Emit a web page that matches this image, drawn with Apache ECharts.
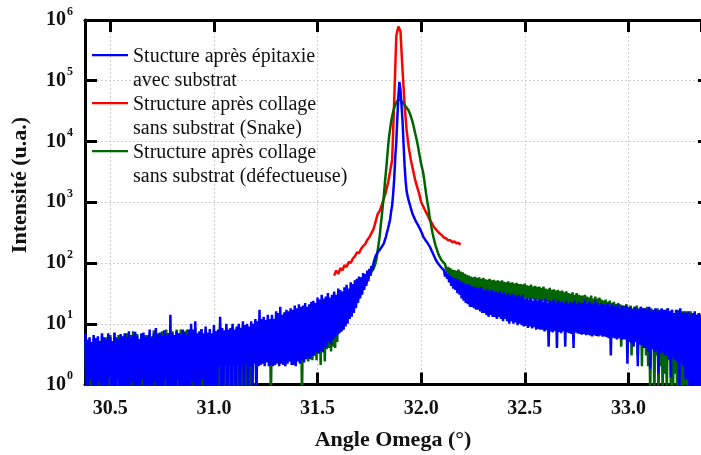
<!DOCTYPE html>
<html>
<head>
<meta charset="utf-8">
<script src="https://cdn.jsdelivr.net/npm/echarts@6/dist/echarts.min.js"></script>
<style>
html, body { margin: 0; padding: 0; background: #fff; }
#chart { width: 701px; height: 455px; }
</style>
</head>
<body>
<div id="chart"></div>
<script>
// blue / green are read at 30.38 + 0.01*i (highs) and 30.385 + 0.01*i (lows)
// values under 1 sit below the axis floor (clipped)
let angleStart = 30.38;
let redStart = 31.58;

let blueHigh = [
    7, 5.5, 6, 5, 6.5, 5.8, 6.2, 5.2, 7, 6,                  // 30.38
    5.5, 7, 6, 5.2, 7.2, 6, 5.5, 6.8, 6.2, 7,                // 30.48
    6, 7.5, 5.8, 6.5, 7.4, 6.2, 5.6, 6.8, 7.2, 6,            // 30.58
    6.2, 8, 6, 7, 8.5, 6.5, 7.2, 6.4, 7.8, 6.6,              // 30.68
    7, 14, 7, 6.5, 7.5, 7, 6.8, 8, 7.2, 6.6,                 // 30.78
    8, 10, 8, 11, 7, 7.5, 8.2, 7, 9, 7.2,                    // 30.88
    8.2, 7, 9.5, 7.5, 8, 13, 8.5, 7.8, 10, 8,                // 30.98
    8.5, 10, 8, 9, 10, 8.6, 11, 9.5, 10, 9,                  // 31.08
    11, 10, 12, 11, 17, 12, 13, 11.5, 14, 12,                // 31.18
    14, 12, 16, 15, 19, 14, 15.5, 17, 16, 18,                // 31.28
    17, 20, 18, 21, 19, 20, 22, 19, 21, 23,                  // 31.38
    24, 22, 27, 25, 30, 26, 28, 32, 27, 30,                  // 31.48
    34, 30, 38, 36, 34, 40, 44, 38, 48, 45,                  // 31.58
    52, 55, 60, 58, 68, 66, 75, 80, 90, 100,                 // 31.68
    130, 150, 165, 185, 210, 270, 370, 520, 900, 2500,       // 31.78
    10000, 55000, 70000, 22000, 4000, 1500, 1050, 800, 620, 520, // 31.88
    450, 400, 330, 270, 240, 215, 190, 160, 135, 113,        // 31.98
    100, 90, 82, 76, 72, 66, 62, 58, 56, 55,                 // 32.08
    53, 50, 48, 46, 45, 44, 42, 41, 40, 39,                  // 32.18
    38, 40, 36, 35, 37, 34, 36, 33, 34, 32,                  // 32.28
    34, 31, 33, 30, 32, 29, 31, 30, 28, 30,                  // 32.38
    28, 30, 26, 27, 25, 27, 24, 26, 24, 25,                  // 32.48
    25, 23, 26, 22, 24, 23, 25, 22, 24, 23,                  // 32.58
    23, 22, 24, 21, 23, 22, 24, 21, 23, 22,                  // 32.68
    22, 25, 21, 23, 22, 21, 24, 22, 20, 22,                  // 32.78
    21, 20, 22, 19, 21, 20, 19, 21, 18, 20,                  // 32.88
    19, 20, 18, 19, 17, 19, 18, 17, 19, 18,                  // 32.98
    18, 17, 19, 16, 17, 18, 16, 17, 18, 17,                  // 33.08
    17, 18, 16, 17, 15, 17, 16, 18, 15, 16,                  // 33.18
    15, 16, 14, 15, 16, 14, 15, 14                           // 33.28
];

let blueLow = [
    0.6, 0.6, 1.2, 0.6, 0.6, 0.6, 1.1, 0.6, 0.6, 0.6,        // 30.385
    0.6, 1.3, 0.6, 0.6, 0.6, 1.2, 0.6, 0.6, 0.6, 0.6,        // 30.485
    0.6, 0.6, 1.1, 0.6, 0.6, 0.6, 0.6, 1.2, 0.6, 0.6,        // 30.585
    0.6, 0.6, 0.6, 1.1, 0.6, 0.6, 0.6, 0.6, 1.2, 0.6,        // 30.685
    0.6, 0.6, 0.6, 0.6, 1.2, 0.6, 0.6, 0.6, 0.6, 0.6,        // 30.785
    0.6, 1.1, 0.6, 0.6, 0.6, 0.6, 1.2, 0.6, 0.6, 0.6,        // 30.885
    0.6, 0.6, 0.6, 0.6, 2, 0.6, 0.6, 2.1, 0.6, 2,            // 30.985
    0.6, 2, 0.6, 2.1, 0.6, 2, 0.6, 2.2, 0.6, 2,              // 31.085
    0.6, 2.2, 0.6, 2, 2.1, 2.2, 2, 2.3, 2, 2.1,              // 31.185
    2, 2.1, 2.3, 2, 2.2, 2.1, 2, 2.2, 2.4, 2.1,              // 31.285
    2.1, 2, 2.4, 2.2, 2.5, 2.3, 2.6, 2.8, 2.6, 2.9,          // 31.385
    3, 3.4, 3.2, 3.6, 3.4, 4, 4.2, 5, 4.6, 5.5,              // 31.485
    6, 6.5, 7, 7.5, 8, 9, 10, 12, 13, 15,                    // 31.585
    18, 22, 26, 30, 36, 42, 50, 62, 78, 95,                  // 31.685
    140, 158, 175, 195, 240, 320, 440, 700, 1400, 5500,      // 31.785
    25000, 96000, 40000, 9000, 2200, 1250, 920, 700, 570, 480, // 31.885
    420, 360, 300, 255, 228, 200, 175, 148, 124, 106,        // 31.985
    95, 86, 79, 60, 55, 48, 42, 38, 36, 32,                  // 32.085
    30, 26, 24, 22, 21, 19, 19, 18, 17, 17,                  // 32.185
    16, 15, 15, 14, 13, 14, 13, 13, 12, 13,                  // 32.285
    12, 11, 12, 11, 10, 11, 10, 10.5, 9.5, 10,               // 32.385
    9.5, 9, 9.2, 8.5, 9, 8.4, 8.8, 8, 8.2, 8,                // 32.485
    8, 7.5, 7.8, 4.2, 7.5, 7.2, 7.6, 4, 7.3, 7,              // 32.585
    7.5, 4.2, 7.2, 7, 6.8, 4, 7.2, 6.9, 6.8, 6.6,            // 32.685
    6.8, 6.5, 6.6, 6.4, 6.2, 6.5, 6.3, 6.2, 6.4, 6.1,        // 32.785
    6.2, 6, 5.8, 3, 5.9, 5.7, 5.5, 5.8, 5.4, 5.5,            // 32.885
    5.5, 2.2, 5, 4.8, 4.2, 5, 2, 4.5, 4.4, 4,                // 32.985
    4, 3.5, 1.8, 3.8, 3.4, 3.6, 1.5, 3.2, 3.4, 3,            // 33.085
    3, 2.6, 1.3, 2.8, 2.5, 2.4, 0.6, 2.2, 2, 1.2,            // 33.185
    1.2, 0.6, 1, 0.6, 0.6, 0.8, 0.6, 0.6                     // 33.285
];

let greenHigh = [
    5, 4.5, 5.5, 4, 6, 5, 5.8, 4.5, 6.2, 5,                  // 30.38
    6, 5.5, 6.5, 5, 7, 5.5, 6.5, 6, 5.2, 6.5,                // 30.48
    7, 6, 6.5, 7.5, 6, 6.8, 5.5, 7, 6.2, 6.5,                // 30.58
    6.5, 7, 6.2, 7.8, 6.5, 7, 6.8, 7.5, 6, 8,                // 30.68
    7, 6.8, 7.5, 6, 8, 7, 8, 6.5, 7.5, 8,                    // 30.78
    7.5, 8, 7, 8.5, 6.5, 7, 8, 6.5, 8, 7,                    // 30.88
    7, 6.8, 8, 7, 7.5, 9, 7.5, 7, 8.5, 7.5,                  // 30.98
    8, 9, 7.5, 8.5, 9, 8, 9.5, 8.5, 9, 8.5,                  // 31.08
    9, 9.5, 10, 9, 12, 10, 11, 10, 12, 11,                   // 31.18
    12, 11, 13, 12, 14, 12.5, 13, 14, 13.5, 15,              // 31.28
    14, 16, 15, 17, 16, 17, 18, 16, 18, 19,                  // 31.38
    18, 17, 20, 19, 22, 20, 21, 24, 22, 24,                  // 31.48
    26, 24, 28, 26, 30, 28, 32, 30, 34, 32,                  // 31.58
    36, 40, 45, 50, 55, 60, 64, 68, 72, 80,                  // 31.68
    100, 160, 280, 600, 1300, 3200, 8000, 16000, 26000, 36000, // 31.78
    44000, 49000, 48000, 44000, 40000, 36000, 32000, 26000, 20000, 14000, // 31.88
    10000, 6500, 4200, 3000, 1700, 1000, 600, 380, 260, 190, // 31.98
    150, 125, 110, 100, 92, 86, 82, 78, 76, 74,              // 32.08
    78, 72, 70, 66, 64, 62, 60, 58, 59, 57,                  // 32.18
    58, 55, 57, 54, 53, 55, 52, 53, 51, 52,                  // 32.28
    50, 52, 49, 48, 50, 47, 48, 46, 47, 45,                  // 32.38
    45, 44, 46, 43, 42, 44, 41, 42, 40, 41,                  // 32.48
    39, 41, 38, 37, 39, 36, 37, 35, 36, 34,                  // 32.58
    35, 33, 34, 32, 31, 33, 30, 32, 30, 29,                  // 32.68
    29, 30, 28, 27, 29, 26, 28, 26, 27, 25,                  // 32.78
    24, 25, 23, 24, 22, 23, 21, 22, 21, 20,                  // 32.88
    20, 21, 19, 20, 18, 19, 20, 18, 19, 18,                  // 32.98
    18, 19, 17, 18, 16, 17, 18, 16, 17, 16,                  // 33.08
    17, 18, 16, 17, 15, 16, 17, 15, 16, 15,                  // 33.18
    16, 15, 16, 14, 15, 14, 15, 14                           // 33.28
];

let greenLow = [
    0.6, 0.6, 0.6, 0.6, 0.6, 0.6, 0.6, 0.6, 0.6, 0.6,        // 30.385
    0.6, 0.6, 0.6, 0.6, 0.6, 0.6, 0.6, 0.6, 0.6, 0.6,        // 30.485
    0.6, 0.6, 0.6, 0.6, 0.6, 0.6, 0.6, 0.6, 0.6, 0.6,        // 30.585
    0.6, 0.6, 0.6, 0.6, 0.6, 0.6, 0.6, 0.6, 0.6, 0.6,        // 30.685
    0.6, 0.6, 0.6, 0.6, 0.6, 0.6, 0.6, 0.6, 0.6, 0.6,        // 30.785
    0.6, 0.6, 0.6, 0.6, 0.6, 0.6, 0.6, 0.6, 0.6, 0.6,        // 30.885
    0.6, 0.6, 0.6, 0.6, 0.6, 0.6, 0.6, 0.6, 0.6, 0.6,        // 30.985
    0.6, 0.6, 0.6, 0.6, 0.6, 0.6, 0.6, 0.6, 0.6, 0.6,        // 31.085
    0.6, 2.5, 0.6, 3, 2.2, 2.8, 2.4, 3, 2.6, 0.6,            // 31.185
    2.4, 2.8, 2.2, 3, 2.5, 2.6, 3.2, 2.8, 3, 2.4,            // 31.285
    2.6, 3.2, 2.8, 3, 0.6, 2.8, 3.4, 2.4, 3, 2.5,            // 31.385
    3, 2.5, 3.5, 2.1, 3.4, 2.4, 3.8, 4, 3.5, 4.2,            // 31.485
    4, 5, 7, 7.4, 8, 10, 12, 14, 17, 20,                     // 31.585
    20, 24, 28, 34, 40, 46, 56, 62, 68, 86,                  // 31.685
    120, 210, 420, 900, 2100, 5000, 12000, 21000, 31000, 40000, // 31.785
    47000, 49000, 46000, 42000, 38000, 34000, 29000, 23000, 17000, 12000, // 31.885
    8200, 5300, 3600, 2300, 1300, 800, 480, 310, 220, 170,   // 31.985
    135, 115, 104, 96, 70, 64, 58, 55, 52, 50,               // 32.085
    47, 45, 43, 41, 40, 38, 37, 36, 35, 35,                  // 32.185
    34, 33, 32, 31, 31, 30, 30, 29, 30, 29,                  // 32.285
    29, 28, 29, 28, 28, 27, 28, 27, 27, 27,                  // 32.385
    27, 26, 27, 26, 25, 26, 25, 24, 25, 24,                  // 32.485
    24, 23, 23, 22, 23, 22, 22, 21, 22, 21,                  // 32.585
    21, 20, 20, 19, 20, 19, 19, 18, 19, 18,                  // 32.685
    18, 17, 17, 16, 17, 16, 16, 15, 16, 15,                  // 32.785
    15, 14, 14, 13, 13, 12, 12, 11, 4.2, 11,                 // 32.885
    10, 6, 5, 3, 5, 8, 3, 5, 2, 4,                           // 32.985
    3, 2, 0.6, 4, 0.6, 3, 0.6, 2, 0.6, 1.5,                  // 33.085
    0.6, 2.5, 0.6, 0.6, 1.5, 0.6, 2, 0.6, 0.6, 1,            // 33.185
    0.6, 0.6, 1, 0.6, 0.6, 0.6, 0.6, 0.6                     // 33.285
];

// red : 31.58 -> 32.19, step 0.01
let redCounts = [
    62, 75, 66, 82, 76, 92, 86, 104, 100, 118,               // 31.58
    128, 150, 145, 172, 190, 205, 240, 265, 310, 360,        // 31.68
    480, 640, 720, 900, 1150, 1500, 2100, 3200, 5000, 50000, // 31.78
    550000, 780000, 650000, 150000, 40000, 15000, 8000, 5000, 3500, 2400, // 31.88
    1800, 1400, 1000, 850, 720, 620, 520, 460, 400, 360,     // 31.98
    330, 305, 285, 262, 255, 236, 238, 220, 226, 212,        // 32.08
    215, 200                                                 // 32.18
];

let seriesNames = [
    'Stucture après épitaxie\navec substrat',
    'Structure après collage\nsans substrat (Snake)',
    'Structure après collage\nsans substrat (défectueuse)'
];

function round3(v) {
    return Math.round(v * 1000) / 1000;
}

function toPairs(start, counts) {
    let out = [];
    for (let i = 0; i < counts.length; i++) {
        out.push([round3(start + i * 0.01), counts[i]]);
    }
    return out;
}

// highs at the 0.01 grid, lows half way between
function interleave(start, highs, lows) {
    let out = [];
    for (let i = 0; i < highs.length; i++) {
        out.push([round3(start + i * 0.01), highs[i]]);
        if (i < lows.length) out.push([round3(start + i * 0.01 + 0.005), lows[i]]);
    }
    return out;
}

let serif = '"Liberation Serif", "DejaVu Serif", serif';
let myChart = echarts.init(document.getElementById('chart'));

// line at the top of a 36x30 box, so it sits on the first text line
let legendIcon = 'path://M0,0L36,0L36,2.2L0,2.2Z M0,30L0.01,30L0.01,30.01Z';

let frameTick = { inside: true, length: 12, lineStyle: { width: 3, color: '#000' } };
let dotted = { show: true, lineStyle: { type: [2, 2], color: '#cfcfcf', width: 1 } };

let option = {
    animation: false,
    backgroundColor: '#fff',
    grid: { left: 85, right: 0, top: 20, bottom: 70.5, outerBoundsMode: 'none', containLabel: false },
    legend: {
        data: seriesNames,
        orient: 'vertical',
        left: 92,
        top: 45,
        padding: 0,
        itemGap: 0,
        itemWidth: 36,
        itemHeight: 30,
        icon: legendIcon,
        textStyle: { fontFamily: serif, fontSize: 20, color: '#111', lineHeight: 24 }
    },
    graphic: [{
        type: 'text',
        x: 20,
        y: 185,
        rotation: Math.PI / 2,
        style: {
            text: 'Intensité (u.a.)',
            fontFamily: serif,
            fontSize: 22,
            fontWeight: 'bold',
            fill: '#111',
            textAlign: 'center',
            textVerticalAlign: 'middle'
        }
    }],
    xAxis: [{
        type: 'value',
        min: 30.378,
        max: 33.35,
        splitNumber: 6,
        name: 'Angle Omega (°)',
        nameLocation: 'middle',
        nameGap: 45,
        nameTextStyle: { fontFamily: serif, fontSize: 22, fontWeight: 'bold', color: '#111' },
        axisLine: { onZero: false, lineStyle: { color: '#000', width: 3 } },
        axisTick: frameTick,
        axisLabel: {
            margin: 14,
            showMinLabel: false,
            showMaxLabel: false,
            fontFamily: serif, fontSize: 20, fontWeight: 'bold', color: '#111',
            formatter: function (v) {
                return Math.abs(v * 2 - Math.round(v * 2)) < 1e-6 ? v.toFixed(1) : '';
            }
        },
        splitLine: dotted
    }, {
        type: 'value',
        position: 'top',
        min: 30.378,
        max: 33.35,
        splitNumber: 6,
        axisLine: { onZero: false, lineStyle: { color: '#000', width: 3 } },
        axisTick: frameTick,
        axisLabel: { show: false },
        splitLine: { show: false }
    }],
    yAxis: [{
        type: 'log',
        logBase: 10,
        min: 1,
        max: 1e6,
        axisLine: { onZero: false, lineStyle: { color: '#000', width: 3 } },
        axisTick: frameTick,
        axisLabel: {
            margin: 12,
            formatter: function (v) {
                let e = Math.round(Math.log10(v));
                return '{b|10}{e|' + e + '}';
            },
            rich: {
                b: { fontFamily: serif, fontSize: 20, fontWeight: 'bold', color: '#111', lineHeight: 20 },
                e: { fontFamily: serif, fontSize: 12, fontWeight: 'bold', color: '#111', lineHeight: 12, padding: [0, 0, 17, 1] }
            }
        },
        splitLine: dotted
    }, {
        type: 'log',
        logBase: 10,
        min: 1,
        max: 1e6,
        position: 'right',
        axisLine: { show: false },
        axisTick: { inside: true, length: 3, lineStyle: { width: 3, color: '#000' } },
        axisLabel: { show: false },
        splitLine: { show: false }
    }],
    series: [{
        name: seriesNames[1],
        type: 'line',
        showSymbol: false,
        color: '#ff0000',
        lineStyle: { width: 2.5 },
        data: toPairs(redStart, redCounts)
    }, {
        name: seriesNames[2],
        type: 'line',
        showSymbol: false,
        color: '#006400',
        lineStyle: { width: 2.5 },
        data: interleave(angleStart, greenHigh, greenLow)
    }, {
        name: seriesNames[0],
        type: 'line',
        showSymbol: false,
        color: '#0000ff',
        lineStyle: { width: 2.5 },
        data: interleave(angleStart, blueHigh, blueLow)
    }]
};

myChart.setOption(option);
</script>
</body>
</html>
